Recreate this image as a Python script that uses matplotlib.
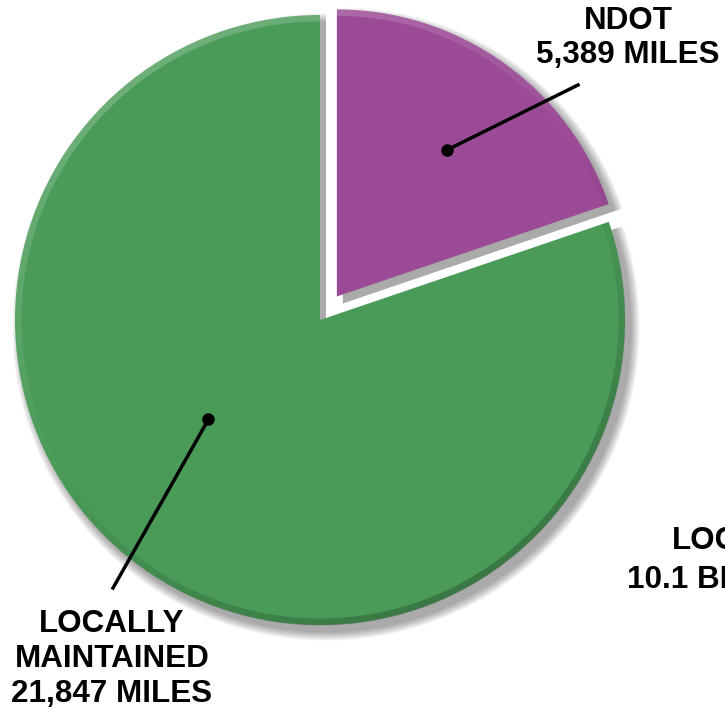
import numpy as np
import matplotlib
matplotlib.use("Agg")
import matplotlib.pyplot as plt
from matplotlib.patches import Wedge

# road miles by who maintains them
labels = ["NDOT", "LOCALLY\nMAINTAINED"]
miles = [5389, 21847]
colors = ["#9b4a95", "#4a9b58"]

# cut-off label from the neighbouring chart
side_labels = ["LOCALLY", "10.1 BILLION"]

W, H = 725, 714
fig = plt.figure(figsize=(W / 100, H / 100), dpi=100)
ax = fig.add_axes([0, 0, 1, 1])

center = (320, 394)
radius = 305

# explode is in data units (pixels here)
wedges, _ = ax.pie(miles, colors=colors, startangle=90, counterclock=False,
                   explode=[29, 0], center=center, radius=radius,
                   frame=True, wedgeprops=dict(linewidth=0, zorder=3))
ax.set_xlim(0, W)
ax.set_ylim(0, H)
ax.set_aspect("equal")
ax.axis("off")

# purple slice is drawn a bit smaller than the green one
wedges[0].set_radius(287)

# soft drop shadow + bevel edges
for w in wedges:
    cx, cy = w.center
    r = w.r
    for k in range(12):
        sh = Wedge((cx + 6, cy - 7), r + k * 0.8, w.theta1, w.theta2,
                   facecolor="black", alpha=0.03, linewidth=0, zorder=1)
        ax.add_patch(sh)
    th = np.linspace(np.radians(w.theta1), np.radians(w.theta2), 200)
    for t0, t1 in zip(th[:-1], th[1:]):
        tm = (t0 + t1) / 2
        light = np.cos(tm - np.radians(120))
        col = "white" if light > 0 else "black"
        a = abs(light) * (0.2 if light > 0 else 0.22)
        ax.plot([cx + (r - 3) * np.cos(t0), cx + (r - 3) * np.cos(t1)],
                [cy + (r - 3) * np.sin(t0), cy + (r - 3) * np.sin(t1)],
                color=col, alpha=a, linewidth=5, solid_capstyle="butt", zorder=5)


def polar(w, ang, frac):
    cx, cy = w.center
    return cx + frac * w.r * np.cos(np.radians(ang)), cy + frac * w.r * np.sin(np.radians(ang))


font = dict(family="Liberation Sans", fontweight="bold", fontsize=22.6, color="black")

# leader lines and dots
dot_ndot = polar(wedges[0], 53, 0.64)
ax.plot(*zip(dot_ndot, (578, H - 85)), color="black", lw=2.5, zorder=6)
ax.plot(*dot_ndot, "o", color="black", ms=8, zorder=7)
ax.text(628, H - 38, f"{labels[0]}\n{miles[0]:,} MILES", ha="center", va="center",
        linespacing=1.2, **font)

dot_loc = polar(wedges[1], 221.7, 0.49)
ax.plot(*zip(dot_loc, (113, H - 588)), color="black", lw=2.5, zorder=6)
ax.plot(*dot_loc, "o", color="black", ms=8, zorder=7)
ax.text(112, H - 659, f"{labels[1]}\n{miles[1]:,} MILES", ha="center", va="center",
        linespacing=1.2, **font)

ax.text(672, H - 541, side_labels[0], ha="left", va="center", **font)
ax.text(627, H - 580, side_labels[1], ha="left", va="center", **font)

fig.savefig("out.png", dpi=100)
